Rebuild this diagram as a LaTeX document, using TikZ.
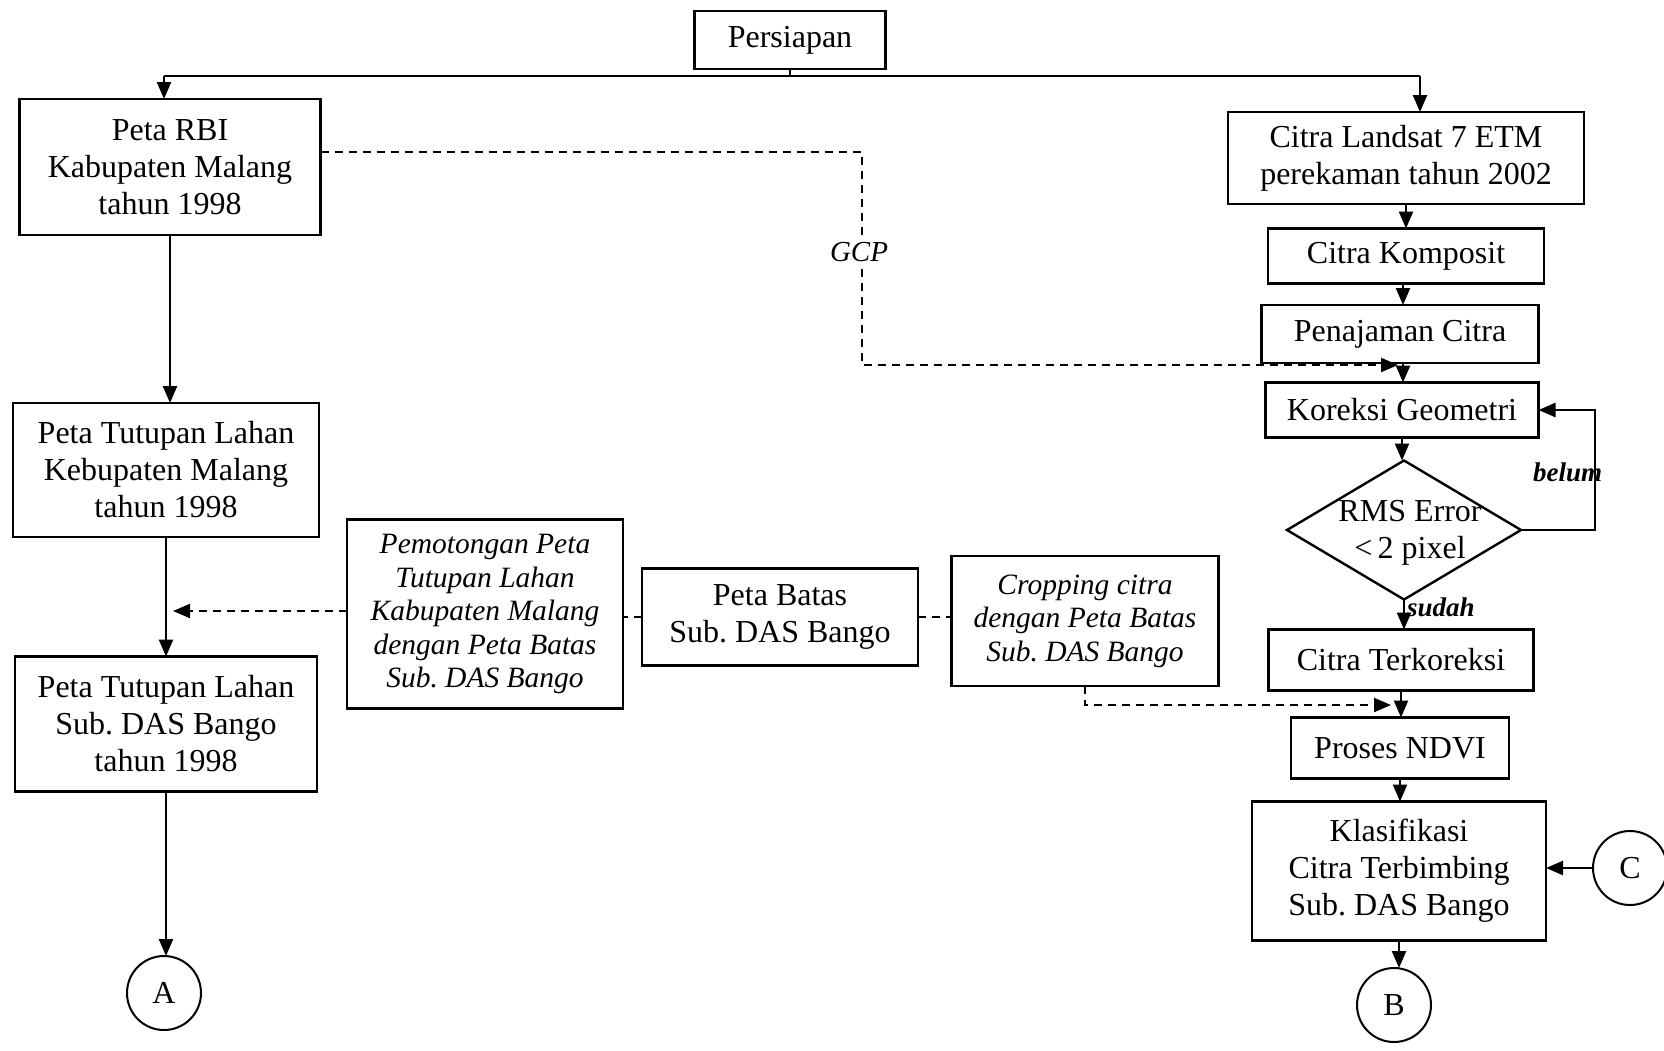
\documentclass[tikz,border=0pt]{standalone}
\usepackage{fontspec}
\setmainfont{Liberation Serif}
\usetikzlibrary{arrows.meta,shapes.geometric}
\begin{document}
\begin{tikzpicture}[x=1pt,y=-1pt,
  every node/.style={inner sep=0pt,outer sep=0pt},
  box/.style={draw,line width=2.4pt,align=center,font=\fontsize{32}{37}\selectfont},
  ibox/.style={draw,line width=2.4pt,align=center,font=\fontsize{29.5}{33.5}\selectfont\itshape},
  conn/.style={draw,circle,line width=2pt,minimum size=74pt,font=\fontsize{32}{37}\selectfont},
  arr/.style={line width=2.4pt,-{Triangle[length=17pt,width=14pt]}},
  ln/.style={line width=2.4pt},
  dsh/.style={line width=2pt,dash pattern=on 8pt off 6pt},
  darr/.style={dsh,-{Triangle[length=17pt,width=14pt]}},
  lbl/.style={font=\fontsize{27}{30}\selectfont\bfseries\itshape}]
\useasboundingbox (0,0) rectangle (1664,1050);

% nodes
\node[box,minimum width=191pt,minimum height=58pt] (persiapan) at (790,40) {Persiapan};
\node[box,minimum width=301pt,minimum height=136pt] (rbi) at (170,167) {Peta RBI\\Kabupaten Malang\\tahun 1998};
\node[box,minimum width=356pt,minimum height=92pt] (landsat) at (1406,158) {Citra Landsat 7 ETM\\perekaman tahun 2002};
\node[box,minimum width=276pt,minimum height=55pt] (komposit) at (1406,256) {Citra Komposit};
\node[box,minimum width=277pt,minimum height=58pt] (penajaman) at (1400,334) {Penajaman Citra};
\node[box,minimum width=273pt,minimum height=55pt] (koreksi) at (1402,410) {Koreksi Geometri};
\node[draw,diamond,line width=2.4pt,minimum width=234pt,minimum height=139pt] (rms) at (1404,530) {};
\node[align=center,font=\fontsize{32}{37}\selectfont] (rmstext) at (1410,533) {RMS Error\\{<\,2} pixel};
\node[box,minimum width=265pt,minimum height=61pt] (terkoreksi) at (1401,660) {Citra Terkoreksi};
\node[box,minimum width=218pt,minimum height=61pt] (ndvi) at (1400,748) {Proses NDVI};
\node[box,minimum width=294pt,minimum height=139pt] (klas) at (1399,871) {Klasifikasi\\Citra Terbimbing\\Sub.\ DAS Bango};
\node[conn] (C) at (1630,868) {C};
\node[conn] (B) at (1394,1005) {B};
\node[conn] (A) at (164,993) {A};
\node[box,minimum width=306pt,minimum height=134pt] (tut1) at (166,470) {Peta Tutupan Lahan\\Kebupaten Malang\\tahun 1998};
\node[box,minimum width=302pt,minimum height=135pt] (tut2) at (166,724) {Peta Tutupan Lahan\\Sub.\ DAS Bango\\tahun 1998};
\node[ibox,minimum width=276pt,minimum height=189pt] (pemot) at (485,614) {Pemotongan Peta\\Tutupan Lahan\\Kabupaten Malang\\dengan Peta Batas\\Sub.\ DAS Bango};
\node[box,minimum width=276pt,minimum height=97pt] (batas) at (780,617) {Peta Batas\\Sub.\ DAS Bango};
\node[ibox,minimum width=267pt,minimum height=130pt] (crop) at (1085,621) {Cropping citra\\dengan Peta Batas\\Sub.\ DAS Bango};

% top connector
\coordinate (jl) at (164,76);
\coordinate (jr) at (1420,76);
\draw[ln] (persiapan.south) -- (persiapan.south |- jl);
\draw[ln] (jl) -- (jr);
\draw[arr] (jl) -- (jl |- rbi.north);
\draw[arr] (jr) -- (jr |- landsat.north);

% right column
\draw[arr] (landsat.south) -- (landsat.south |- komposit.north);
\draw[arr] (1403,283.5) -- (1403,305);
\draw[arr] (1403,363) -- (1403,382.5);
\draw[arr] (koreksi.south) -- (koreksi.south |- rms.north);
\draw[arr] (rms.south) -- (rms.south |- terkoreksi.north);
\draw[arr] (terkoreksi.south) -- (terkoreksi.south |- ndvi.north);
\draw[arr] (ndvi.south) -- (ndvi.south |- klas.north);
\draw[arr] (klas.south) -- (klas.south |- B.north);
\draw[arr] (C.west) -- (C.west -| klas.east);
\coordinate (bl) at (1595,0);
\draw[arr] (rms.east) -- (rms.east -| bl) -- (bl |- koreksi.east) -- (koreksi.east);
\node[lbl,anchor=east] (belum) at (1602,472) {belum};
\node[lbl,anchor=west] (sudah) at (1407,607) {sudah};

% GCP dashed
\coordinate (g1) at (862,152);
\coordinate (g2) at (862,365);
\coordinate (gt) at (1398,365);
\draw[darr] (rbi.east |- g1) -- (g1) -- (g2) -- (gt);
\node[fill=white,inner sep=3pt,font=\fontsize{29}{33}\selectfont\itshape] (gcp) at (859,252) {GCP};

% left column
\draw[arr] (rbi.south) -- (rbi.south |- tut1.north);
\draw[arr] (tut1.south) -- (tut1.south |- tut2.north);
\draw[arr] (tut2.south) -- (tut2.south |- A.north);

% middle dashed
\coordinate (pl) at (173,611);
\draw[darr] (pemot.west |- pl) -- (pl);
\draw[dsh] (batas.west) -- (batas.west -| pemot.east);
\draw[dsh] (batas.east) -- (batas.east -| crop.west);
\coordinate (c1) at (1085,705);
\coordinate (c2) at (1391,705);
\draw[darr] (crop.south) -- (c1) -- (c2);
\end{tikzpicture}
\end{document}
